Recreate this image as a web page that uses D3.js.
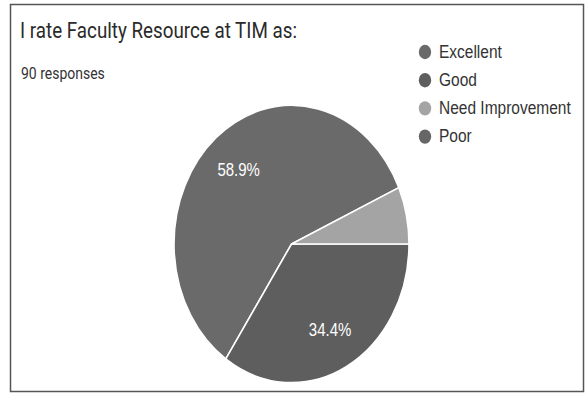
<!DOCTYPE html>
<html>
<head>
<meta charset="utf-8">
<script src="https://cdn.jsdelivr.net/npm/d3@7"></script>
<style>
  html, body { margin: 0; padding: 0; background: #fff; }
  svg { display: block; }
</style>
</head>
<body>
<svg id="chart" width="588" height="398"></svg>
<script>
// Survey answers
const categories = ["Excellent", "Good", "Need Improvement", "Poor"];
const responses = [53, 31, 6, 0];
const sliceColors = ["#6a6a6a", "#5e5e5e", "#a4a4a4", "#666666"];
const titleText = "I rate Faculty Resource at TIM as:";
const subtitleText = "90 responses";

const svg = d3.select("#chart");
const total = d3.sum(responses);
const yStretch = 1.18;   // the whole card is drawn taller than wide

// Card border
svg.append("rect")
  .attr("x", 10.5).attr("y", 4.5)
  .attr("width", 573).attr("height", 387)
  .attr("fill", "#fff")
  .attr("stroke", "#555").attr("stroke-width", 1.5);

function stretchedText(x, y) {
  return `translate(${x},${y}) scale(1,${yStretch})`;
}

svg.append("text")
  .attr("transform", stretchedText(20, 38))
  .attr("font-family", "Roboto, 'Open Sans', sans-serif")
  .attr("font-size", 18.8)
  .attr("fill", "#2a2a2a")
  .text(titleText);

svg.append("text")
  .attr("transform", stretchedText(21, 79))
  .attr("font-family", "Roboto, 'Open Sans', sans-serif")
  .attr("font-size", 14)
  .attr("fill", "#333")
  .text(subtitleText);

// Pie (drawn as a circle, stretched vertically)
const cx = 291.5, cy = 244, r = 117.5;
const pie = d3.pie().sort(null).value(d => d)
  .startAngle(426 * Math.PI / 180)
  .endAngle(66 * Math.PI / 180);
const arcs = pie(responses);
const arc = d3.arc().innerRadius(0).outerRadius(r);
const labelArc = d3.arc().innerRadius(r * 0.7).outerRadius(r * 0.7);

const g = svg.append("g")
  .attr("transform", `translate(${cx},${cy}) scale(1,${yStretch})`);

g.selectAll("path.slice")
  .data(arcs.filter(a => a.value > 0))
  .join("path")
  .attr("class", "slice")
  .attr("d", arc)
  .attr("fill", d => sliceColors[d.index])
  .attr("stroke", "#fff")
  .attr("stroke-width", 1.6)
  .attr("vector-effect", "non-scaling-stroke");

// Percentage labels for the larger slices
svg.selectAll("text.pct")
  .data(arcs.filter(a => a.value / total > 0.1))
  .join("text")
  .attr("class", "pct")
  .attr("transform", d => stretchedText(
    cx + labelArc.centroid(d)[0],
    cy + labelArc.centroid(d)[1] * yStretch + 6))
  .attr("text-anchor", "middle")
  .attr("font-family", "'Liberation Sans', Arial, sans-serif")
  .attr("font-size", 15)
  .attr("fill", "#fff")
  .text(d => (d.value / total * 100).toFixed(1) + "%");

// Legend
const legend = svg.append("g").attr("transform", "translate(425,52)");
const item = legend.selectAll("g")
  .data(categories)
  .join("g")
  .attr("transform", (d, i) => `translate(0,${i * 28.2})`);
item.append("ellipse")
  .attr("rx", 6.2).attr("ry", 7.2)
  .attr("fill", (d, i) => sliceColors[i]);
item.append("text")
  .attr("transform", stretchedText(14, 5.5))
  .attr("font-family", "'Liberation Sans', Arial, sans-serif")
  .attr("font-size", 15.5)
  .attr("fill", "#333")
  .text(d => d);
</script>
</body>
</html>
